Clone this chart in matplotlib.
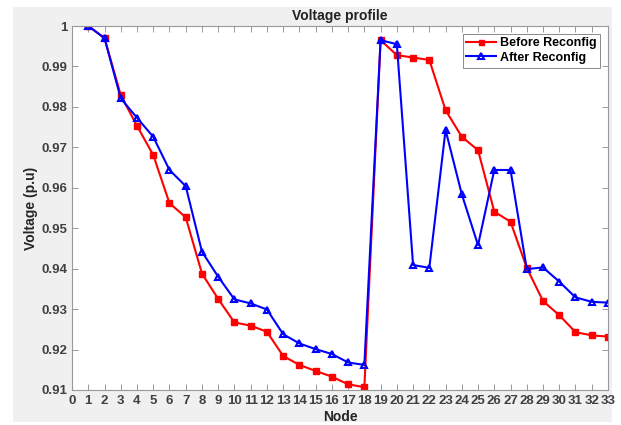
import matplotlib
matplotlib.use('Agg')
import matplotlib.pyplot as plt
from matplotlib.patches import Rectangle

plt.rcParams['font.family'] = ['Liberation Sans', 'DejaVu Sans']
plt.rcParams['font.weight'] = 'bold'

# Node voltages
nodes = list(range(1, 34))
before = [1.0, 0.997, 0.9829, 0.9753, 0.9681, 0.9562, 0.9527, 0.9388, 0.9325,
          0.9267, 0.9259, 0.9244, 0.9184, 0.9162, 0.9147, 0.9133, 0.9114, 0.9107,
          0.9965, 0.9928, 0.9922, 0.9916, 0.9792, 0.9726, 0.9693, 0.9541, 0.9516,
          0.9402, 0.9320, 0.9285, 0.9243, 0.9235, 0.9232]
after = [1.0, 0.997, 0.9821, 0.9773, 0.9726, 0.9644, 0.9604, 0.9442, 0.9380,
         0.9324, 0.9314, 0.9299, 0.9238, 0.9215, 0.9201, 0.9189, 0.9168, 0.9162,
         0.9965, 0.9955, 0.9409, 0.9402, 0.9743, 0.9584, 0.9458, 0.9644, 0.9644,
         0.9399, 0.9403, 0.9368, 0.9329, 0.9318, 0.9316]
yticks = [0.91, 0.92, 0.93, 0.94, 0.95, 0.96, 0.97, 0.98, 0.99, 1.0]
ytick_labels = ['0.91', '0.92', '0.93', '0.94', '0.95', '0.96', '0.97', '0.98', '0.99', '1']

fig = plt.figure(figsize=(6.21, 4.25), dpi=100, facecolor='white')
# grey figure panel, as in the screenshot
fig.add_artist(Rectangle((13 / 621, 3 / 425), 599 / 621, 415 / 425,
                         transform=fig.transFigure, facecolor='#f0f0f0',
                         edgecolor='none', zorder=-10))
ax = fig.add_axes([0.116, 0.0824, 0.863, 0.8564])

ax.plot(nodes, before, color='red', lw=1.5, marker='s', ms=4.5,
        mfc='red', mec='red', label='Before Reconfig')
ax.plot(nodes, after, color='blue', lw=1.5, marker='^', ms=5,
        mfc='none', mec='blue', mew=1.5, label='After Reconfig')

ax.set_xlim(0, 33)
ax.set_ylim(0.91, 1.0)
ax.set_xticks(range(0, 34))
ax.set_yticks(yticks)
ax.set_yticklabels(ytick_labels)
ax.tick_params(direction='in', top=True, right=True, labelsize=9.5,
               color='#888888', labelcolor='#404040', length=4, width=0.6)
for s in ax.spines.values():
    s.set_color('#999999')
    s.set_linewidth(0.8)

ax.set_title('Voltage profile', fontsize=10, fontweight='bold', pad=4, color='#222222')
ax.set_xlabel('Node', fontsize=10, fontweight='bold', labelpad=2, color='#262626')
ax.set_ylabel('Voltage (p.u)', fontsize=10, fontweight='bold', labelpad=2, color='#262626')

leg = ax.legend(loc='upper right', fontsize=9, fancybox=False, framealpha=1,
                edgecolor='#777777', borderpad=0.3, handlelength=2.4,
                labelspacing=0.2, handletextpad=0.3, markerscale=0.8,
                borderaxespad=0.6)
leg.get_frame().set_linewidth(0.6)

fig.savefig('out.png', dpi=100, facecolor=fig.get_facecolor())
